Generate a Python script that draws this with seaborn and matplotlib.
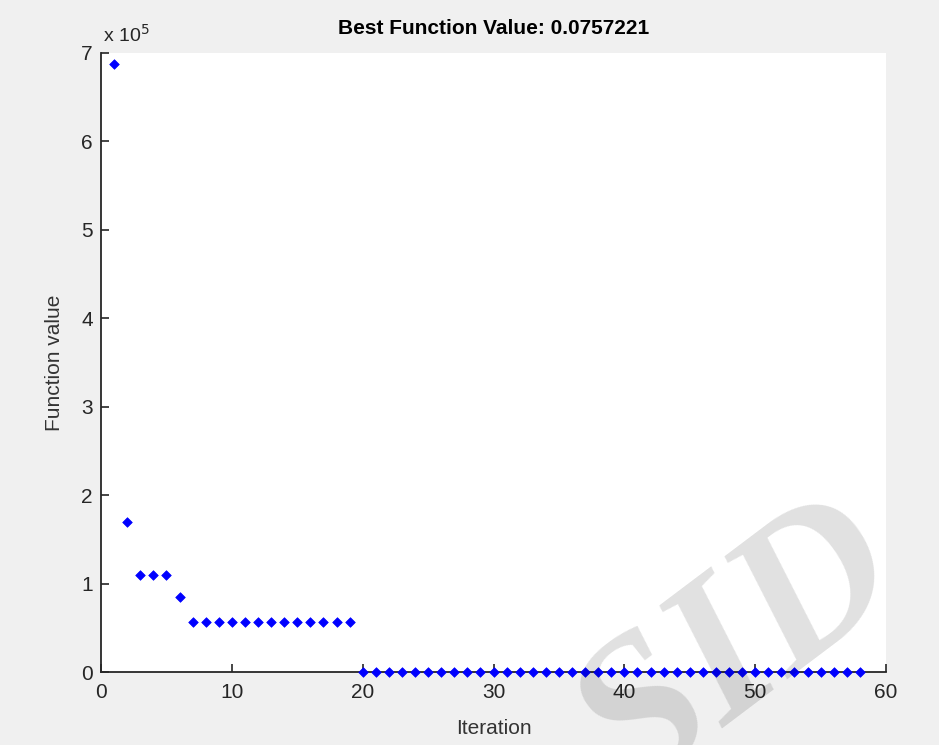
import numpy as np
import pandas as pd
import matplotlib
matplotlib.use("Agg")
import matplotlib.pyplot as plt
import seaborn as sns
from matplotlib.ticker import FuncFormatter

iterations = list(range(1, 59))
values = ([6.88e5, 1.70e5, 1.10e5, 1.10e5, 1.10e5, 0.85e5]
          + [0.565e5] * 13
          + [0.0757221] * 39)
title_text = "Best Function Value: 0.0757221"
x_label = "Iteration"
y_label = "Function value"
x_ticks = [0, 10, 20, 30, 40, 50, 60]
y_ticks = [0, 1e5, 2e5, 3e5, 4e5, 5e5, 6e5, 7e5]

df = pd.DataFrame({"Iteration": iterations, "Value": values})

sns.set_style("ticks")
plt.rcParams['font.family'] = ['Liberation Sans', 'DejaVu Sans']

fig = plt.figure(figsize=(9.39, 7.45), dpi=100, facecolor="#f0f0f0")
ax = fig.add_axes([101/939, 1-672/745, (886-101)/939, (672-53)/745])
ax.set_facecolor("white")

sns.scatterplot(data=df, x="Iteration", y="Value", ax=ax, marker="D",
                color="#0000ff", edgecolor="#0000ff", s=24, linewidth=0.5,
                clip_on=False, zorder=3)

ax.set_xlim(0, 60)
ax.set_ylim(0, 7e5)
ax.set_xticks(x_ticks)
ax.set_yticks(y_ticks)
ax.yaxis.set_major_formatter(FuncFormatter(lambda v, p: f"{v/1e5:g}"))
ax.tick_params(direction="in", length=6, width=1.2, colors="#262626",
               labelsize=15, labelcolor="#262626")
ax.tick_params(axis="x", pad=8)
ax.tick_params(axis="y", pad=6)
for s in ["top", "right"]:
    ax.spines[s].set_visible(False)
for s in ["left", "bottom"]:
    ax.spines[s].set_color("#262626")
    ax.spines[s].set_linewidth(1.3)

ax.set_xlabel(x_label, fontsize=15, color="#333333", labelpad=12)
ax.set_ylabel(y_label, fontsize=15, color="#333333", labelpad=12)
ax.set_title(title_text, fontsize=15, fontweight="bold", color="black", pad=14)

ax.text(0.003, 1.012, r"x 10$^{5}$", transform=ax.transAxes, fontsize=14,
        color="#262626", ha="left", va="bottom")

fig.text(740/939, 1-650/745, "SID", fontsize=150, family="Liberation Serif",
         style="italic", fontweight="bold", color="black", alpha=0.12,
         rotation=37, rotation_mode="anchor", ha="center", va="center",
         zorder=10)

fig.savefig("out.png", dpi=100, facecolor=fig.get_facecolor())
